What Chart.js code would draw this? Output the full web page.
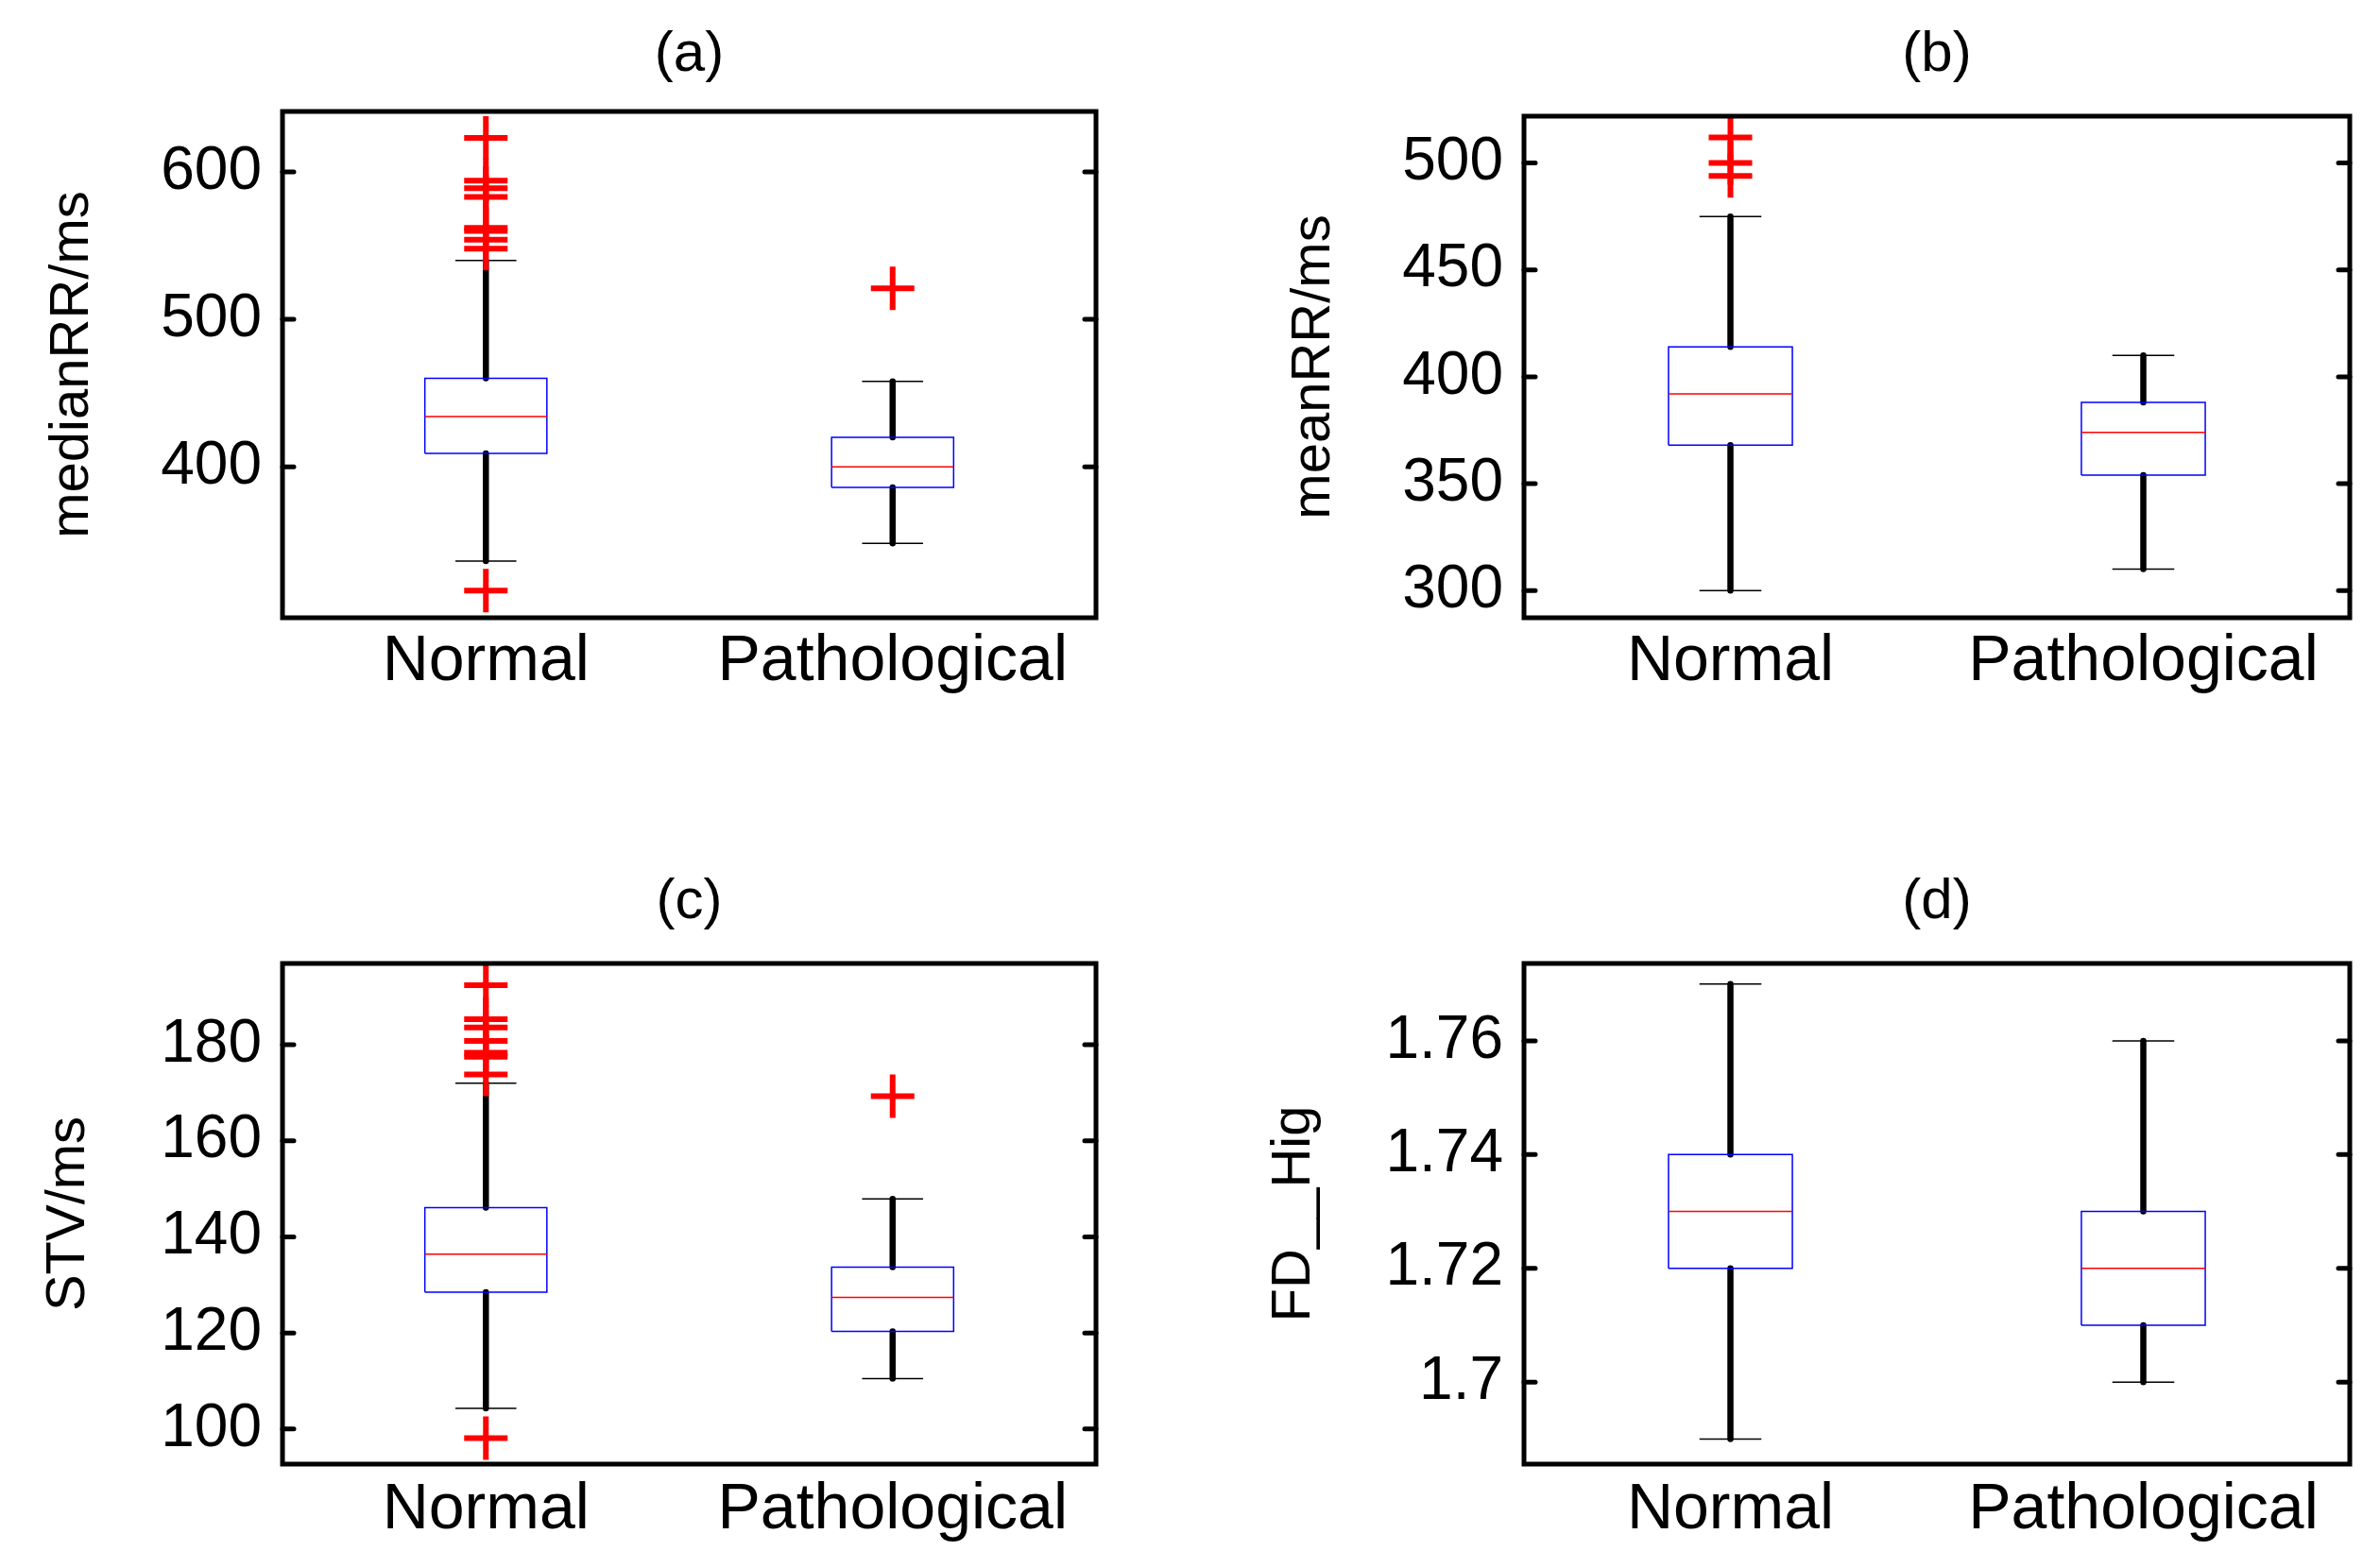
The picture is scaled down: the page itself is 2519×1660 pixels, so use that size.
<!DOCTYPE html>
<html>
<head>
<meta charset="utf-8">
<script src="https://cdn.jsdelivr.net/npm/chart.js@4.4.0/dist/chart.umd.min.js"></script>
<style>
  html, body { margin: 0; padding: 0; background: #fff; }
  canvas { position: absolute; }
</style>
</head>
<body>
<canvas id="panelA" width="1260" height="830" style="left:0;top:0"></canvas>
<canvas id="panelB" width="1259" height="830" style="left:1260px;top:0"></canvas>
<canvas id="panelC" width="1260" height="830" style="left:0;top:830px"></canvas>
<canvas id="panelD" width="1259" height="830" style="left:1260px;top:830px"></canvas>
<script>
const groups = ["Normal", "Pathological"];

// (a) medianRR
const medianRRLow = [336, 348];
const medianRRQ1 = [409, 386];
const medianRRMedian = [434, 400];
const medianRRQ3 = [460, 420];
const medianRRHigh = [540, 458];
const medianRROutNormal = [623, 594, 589, 583, 562, 560, 554, 548, 316];
const medianRROutPatho = [521];
const medianRRTicks = [400, 500, 600];
const medianRRTickLabels = ["400", "500", "600"];

// (b) meanRR
const meanRRLow = [300, 310];
const meanRRQ1 = [368, 354];
const meanRRMedian = [392, 374];
const meanRRQ3 = [414, 388];
const meanRRHigh = [475, 410];
const meanRROutNormal = [512, 500, 494];
const meanRROutPatho = [];
const meanRRTicks = [300, 350, 400, 450, 500];
const meanRRTickLabels = ["300", "350", "400", "450", "500"];

// (c) STV
const stvLow = [104.3, 110.5];
const stvQ1 = [128.5, 120.3];
const stvMedian = [136.4, 127.4];
const stvQ3 = [146.1, 133.7];
const stvHigh = [172, 147.9];
const stvOutNormal = [192.4, 185.3, 183.6, 180.8, 178.3, 177.5, 173.8, 98.1];
const stvOutPatho = [169.3];
const stvTicks = [100, 120, 140, 160, 180];
const stvTickLabels = ["100", "120", "140", "160", "180"];

// (d) FD_Hig
const fdLow = [1.69, 1.70];
const fdQ1 = [1.72, 1.71];
const fdMedian = [1.73, 1.72];
const fdQ3 = [1.74, 1.73];
const fdHigh = [1.77, 1.76];
const fdOutNormal = [];
const fdOutPatho = [];
const fdTicks = [1.70, 1.72, 1.74, 1.76];
const fdTickLabels = ["1.7", "1.72", "1.74", "1.76"];

const BOX = 0.15;  // half box width in x units
const CAP = 0.075; // half whisker cap width

Chart.defaults.font.family = '"Liberation Sans", Arial, sans-serif';
Chart.defaults.color = "#000";

// black frame with inward ticks on both sides, like matlab axes
const frame = {
  id: "frame",
  afterDatasetsDraw(chart) {
    const { ctx, chartArea: a, scales: { y } } = chart;
    ctx.save();
    ctx.strokeStyle = "#000";
    ctx.lineCap = "round";
    ctx.lineWidth = 5;
    y.ticks.forEach((t) => {
      const py = y.getPixelForValue(t.value);
      ctx.beginPath();
      ctx.moveTo(a.left, py);
      ctx.lineTo(a.left + 12, py);
      ctx.moveTo(a.right - 12, py);
      ctx.lineTo(a.right, py);
      ctx.stroke();
    });
    ctx.lineCap = "butt";
    ctx.strokeRect(a.left, a.top, a.right - a.left, a.bottom - a.top);
    ctx.restore();
  },
};

function boxDatasets(low, q1, med, q3, high, outliers) {
  const whisk = [], caps = [], boxes = [], medians = [], outs = [];
  groups.forEach((g, i) => {
    const x = i + 1;
    whisk.push({ x, y: low[i] }, { x, y: q1[i] }, { x, y: null },
               { x, y: q3[i] }, { x, y: high[i] }, { x, y: null });
    caps.push({ x: x - CAP, y: low[i] }, { x: x + CAP, y: low[i] }, { x, y: null },
              { x: x - CAP, y: high[i] }, { x: x + CAP, y: high[i] }, { x, y: null });
    boxes.push({ x: x - BOX, y: q1[i] }, { x: x + BOX, y: q1[i] }, { x: x + BOX, y: q3[i] },
               { x: x - BOX, y: q3[i] }, { x: x - BOX, y: q1[i] }, { x, y: null });
    medians.push({ x: x - BOX, y: med[i] }, { x: x + BOX, y: med[i] }, { x, y: null });
    outliers[i].forEach((v) => outs.push({ x, y: v }));
  });
  return [
    { data: outs, showLine: false, pointStyle: "cross", pointRadius: 23,
      pointBorderColor: "#ff0000", pointBorderWidth: 6, clip: false },
    { data: medians, showLine: true, borderColor: "#ff0000", borderWidth: 1.5, pointRadius: 0 },
    { data: boxes, showLine: true, borderColor: "#0000ff", borderWidth: 1.5, pointRadius: 0 },
    { data: caps, showLine: true, borderColor: "#000", borderWidth: 1.5, pointRadius: 0 },
    { data: whisk, showLine: true, borderColor: "#000", borderWidth: 6.5,
      borderCapStyle: "round", pointRadius: 0 },
  ];
}

function makePanel(id, p) {
  new Chart(document.getElementById(id), {
    type: "scatter",
    data: { datasets: boxDatasets(p.low, p.q1, p.med, p.q3, p.high, p.outliers) },
    options: {
      responsive: false,
      animation: false,
      events: [],
      layout: { padding: { left: 0, right: p.padRight, top: 0, bottom: 0 } },
      plugins: { legend: { display: false }, tooltip: { enabled: false } },
      scales: {
        x: {
          type: "linear", position: "bottom", min: 0.5, max: 2.5,
          afterBuildTicks: (s) => { s.ticks = groups.map((g, i) => ({ value: i + 1 })); },
          afterFit: (s) => { s.height = p.bottomH; },
          grid: { display: false, drawTicks: false },
          border: { display: false },
          ticks: { callback: (v, i) => groups[i], padding: p.xPad, maxRotation: 0,
                   autoSkip: false, font: { size: 68 } },
        },
        xTop: {
          type: "linear", position: "top", display: true, min: 0.5, max: 2.5,
          afterFit: (s) => { s.height = p.topH; },
          grid: { display: false, drawTicks: false },
          border: { display: false },
          ticks: { display: false },
          title: { display: true, text: p.title, font: { size: 60 },
                   padding: { top: p.titlePad, bottom: 0 } },
        },
        y: {
          min: p.min, max: p.max,
          afterBuildTicks: (s) => { s.ticks = p.ticks.map((v) => ({ value: v })); },
          afterFit: (s) => { s.width = p.yW; },
          grid: { display: false, drawTicks: false },
          border: { display: false },
          ticks: { callback: (v, i) => p.labels[i], padding: 22, font: { size: 64 } },
          title: { display: true, text: p.yTitle, font: { size: 58 },
                   padding: { top: p.yTitlePad, bottom: 0 } },
        },
      },
    },
    plugins: [frame],
  });
}

makePanel("panelA", {
  low: medianRRLow, q1: medianRRQ1, med: medianRRMedian, q3: medianRRQ3, high: medianRRHigh,
  outliers: [medianRROutNormal, medianRROutPatho],
  ticks: medianRRTicks, labels: medianRRTickLabels,
  min: 297.6, max: 641, title: "(a)", yTitle: "medianRR/ms",
  yW: 299, padRight: 100, topH: 118, bottomH: 176, titlePad: 22, yTitlePad: 42, xPad: 6,
});

makePanel("panelB", {
  low: meanRRLow, q1: meanRRQ1, med: meanRRMedian, q3: meanRRQ3, high: meanRRHigh,
  outliers: [meanRROutNormal, meanRROutPatho],
  ticks: meanRRTicks, labels: meanRRTickLabels,
  min: 287.3, max: 521.9, title: "(b)", yTitle: "meanRR/ms",
  yW: 353, padRight: 32, topH: 123, bottomH: 176, titlePad: 22, yTitlePad: 96, xPad: 6,
});

makePanel("panelC", {
  low: stvLow, q1: stvQ1, med: stvMedian, q3: stvQ3, high: stvHigh,
  outliers: [stvOutNormal, stvOutPatho],
  ticks: stvTicks, labels: stvTickLabels,
  min: 92.7, max: 196.9, title: "(c)", yTitle: "STV/ms",
  yW: 299, padRight: 100, topH: 190, bottomH: 110, titlePad: 89, yTitlePad: 38, xPad: 8,
});

makePanel("panelD", {
  low: fdLow, q1: fdQ1, med: fdMedian, q3: fdQ3, high: fdHigh,
  outliers: [fdOutNormal, fdOutPatho],
  ticks: fdTicks, labels: fdTickLabels,
  min: 1.6856, max: 1.7736, title: "(d)", yTitle: "FD__Hig",
  yW: 353, padRight: 32, topH: 190, bottomH: 110, titlePad: 89, yTitlePad: 75, xPad: 8,
});
</script>
</body>
</html>
